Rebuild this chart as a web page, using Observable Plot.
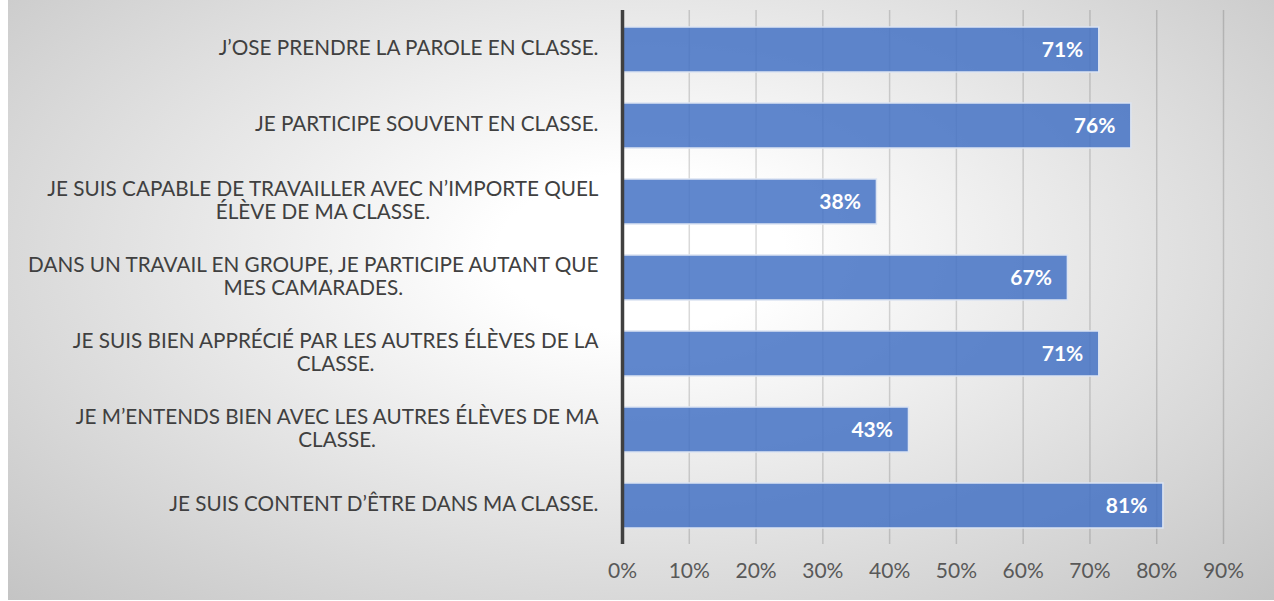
<!DOCTYPE html>
<html>
<head>
<meta charset="utf-8">
<script src="https://cdn.jsdelivr.net/npm/d3@7"></script>
<script src="https://cdn.jsdelivr.net/npm/@observablehq/plot@0.6"></script>
<style>
  html, body { margin: 0; padding: 0; background: #ffffff; }
  #wrap { position: relative; width: 1274px; height: 601px; background: #ffffff; overflow: hidden; }
  #bg { position: absolute; left: 8px; top: 0; width: 1266px; height: 600px;
        background: radial-gradient(ellipse at 50% 42%, #ffffff 0%, #ffffff 16%, #c4c4c4 100%); }
  #chart { position: absolute; left: 8px; top: 0; }
</style>
</head>
<body>
<div id="wrap"><div id="bg"></div><div id="chart"></div></div>
<script>
const categories = [
  "J’OSE PRENDRE LA PAROLE EN CLASSE.",
  "JE PARTICIPE SOUVENT EN CLASSE.",
  "JE SUIS CAPABLE DE TRAVAILLER AVEC N’IMPORTE QUEL\nÉLÈVE DE MA CLASSE.",
  "DANS UN TRAVAIL EN GROUPE, JE PARTICIPE AUTANT QUE\nMES CAMARADES.",
  "JE SUIS BIEN APPRÉCIÉ PAR LES AUTRES ÉLÈVES DE LA\nCLASSE.",
  "JE M’ENTENDS BIEN AVEC LES AUTRES ÉLÈVES DE MA\nCLASSE.",
  "JE SUIS CONTENT D’ÊTRE DANS MA CLASSE."
];
const values = [0.714, 0.762, 0.381, 0.667, 0.714, 0.429, 0.810];
const xTicks = [0, 0.1, 0.2, 0.3, 0.4, 0.5, 0.6, 0.7, 0.8, 0.9];

const fmt = d3.format(".0%");
const data = categories.map((c, i) => ({label: c, value: values[i]}));

const chart = Plot.plot({
  width: 1266,
  height: 600,
  marginLeft: 614,
  marginRight: 51,
  marginTop: 10,
  marginBottom: 56,
  style: {background: "transparent", fontFamily: "Lato, sans-serif"},
  x: {domain: [0, 0.9], axis: null},
  y: {domain: categories, axis: null, paddingInner: 0.41, paddingOuter: 0.205},
  marks: [
    Plot.ruleX(xTicks.slice(1), {stroke: "#000", strokeOpacity: 0.15, strokeWidth: 1.5}),
    Plot.barX(data, {x: "value", y: "label", fill: "#4472c4", fillOpacity: 0.85, stroke: "#dce4f2", strokeWidth: 1.5}),
    Plot.ruleX([0], {stroke: "#404040", strokeWidth: 3.5}),
    Plot.text(data, {x: "value", y: "label", text: d => fmt(d.value), textAnchor: "end", dx: -16,
      fill: "white", fontWeight: "bold", fontSize: 21}),
    Plot.text(data, {x: 0, y: "label", text: "label", textAnchor: "end", dx: -24, dy: -2,
      fill: "#404040", fontSize: 20.7, lineHeight: 1.12}),
    Plot.text(xTicks, {x: d => d, frameAnchor: "bottom", dy: 33, text: d => fmt(d),
      fill: "#595959", fontSize: 21})
  ]
});
document.getElementById("chart").appendChild(chart);

// center the wrapped lines of multi-line category labels (right edge kept)
chart.querySelectorAll("text").forEach(t => {
  const spans = t.querySelectorAll("tspan");
  if (spans.length > 1) {
    let maxW = 0;
    spans.forEach(s => { maxW = Math.max(maxW, s.getComputedTextLength()); });
    t.setAttribute("text-anchor", "middle");
    spans.forEach(s => s.setAttribute("x", -maxW / 2));
  }
});
</script>
</body>
</html>
